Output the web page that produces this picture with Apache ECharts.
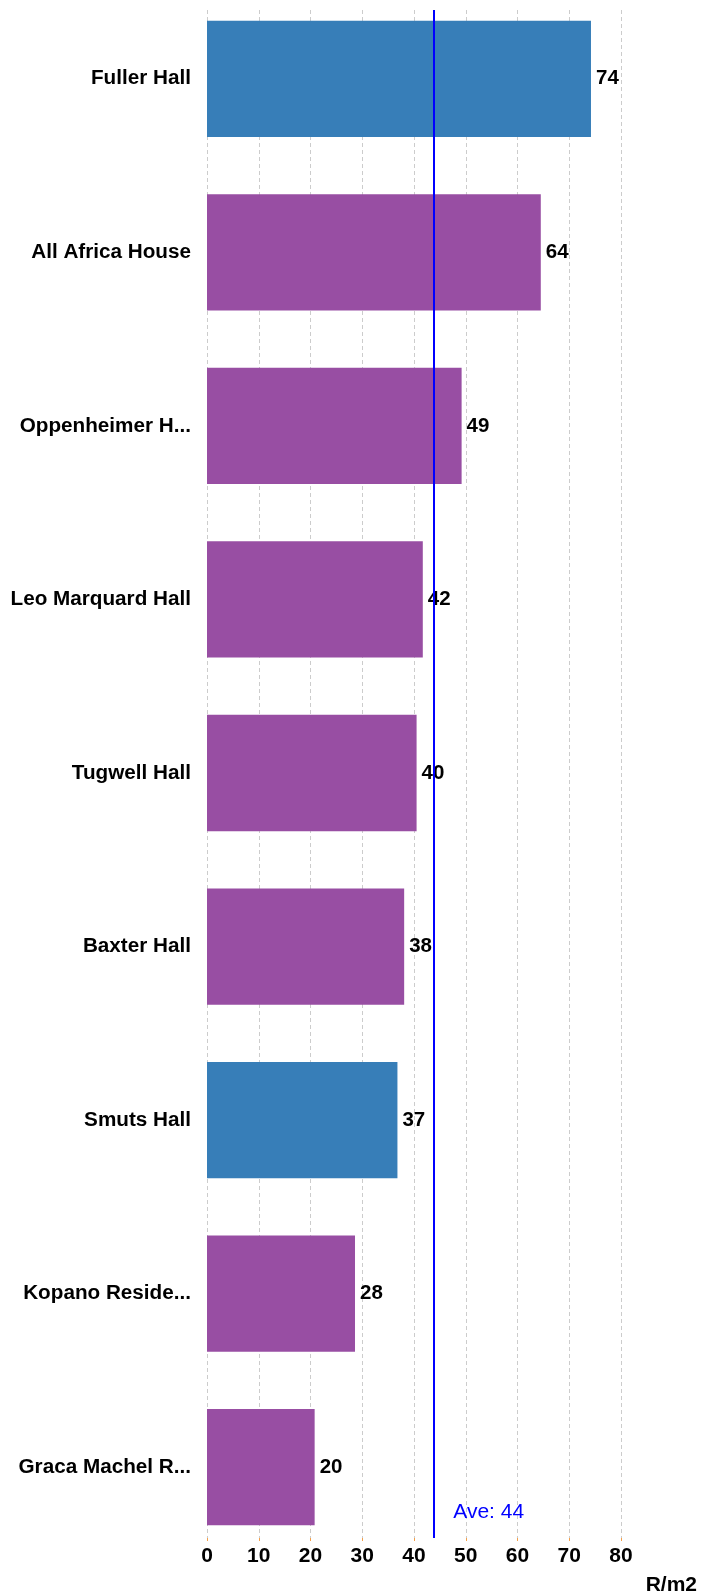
<!DOCTYPE html>
<html>
<head>
<meta charset="utf-8">
<title>R/m2 by residence</title>
<script src="https://cdn.jsdelivr.net/npm/echarts@6/dist/echarts.min.js"></script>
<style>
  html, body { margin: 0; padding: 0; background: #fff; }
  #chart { width: 701px; height: 1595px; }
</style>
</head>
<body>
<div id="chart"></div>
<script>
// data
const halls = ['Fuller Hall', 'All Africa House', 'Oppenheimer H...', 'Leo Marquard Hall',
  'Tugwell Hall', 'Baxter Hall', 'Smuts Hall', 'Kopano Reside...', 'Graca Machel R...']
const values = [74.2, 64.5, 49.2, 41.7, 40.5, 38.1, 36.8, 28.6, 20.8]
const valueLabels = ['74', '64', '49', '42', '40', '38', '37', '28', '20']
const highlighted = [true, false, false, false, false, false, true, false, false]
const average = 43.8
const averageLabel = 'Ave: 44'
const xTicks = { min: 0, max: 80, interval: 10 }

const BLUE = '#377eb8'
const PURPLE = '#984ea3'
const FONT = "'Liberation Sans', Arial, sans-serif"

const chart = echarts.init(document.getElementById('chart'))

chart.setOption({
  animation: false,
  grid: [
    // bars (band a little taller than the axis area, as in the original)
    { left: 207, right: 80, top: -8, bottom: 41, outerBoundsMode: 'none' },
    // axis, grid lines and average line
    { left: 207, right: 80, top: 10, bottom: 57, outerBoundsMode: 'none' }
  ],
  xAxis: [
    {
      gridIndex: 0, type: 'value', min: xTicks.min, max: xTicks.max, interval: xTicks.interval,
      show: false
    },
    {
      gridIndex: 1, type: 'value', min: xTicks.min, max: xTicks.max, interval: xTicks.interval,
      name: 'R/m2',
      nameLocation: 'end',
      nameGap: 76,
      nameTextStyle: {
        fontFamily: FONT, fontSize: 21, fontWeight: 'bold', color: '#000',
        align: 'right', verticalAlign: 'top', padding: [37, 0, 0, 0]
      },
      axisLine: { show: false },
      axisTick: { show: true, length: 3, lineStyle: { color: '#f5a04a' } },
      axisLabel: { fontFamily: FONT, fontSize: 21, fontWeight: 'bold', color: '#000', margin: 8 },
      splitLine: { show: true, lineStyle: { color: '#cccccc', type: [4, 3], width: 1 } }
    }
  ],
  yAxis: [
    {
      gridIndex: 0, type: 'category', data: halls, inverse: true,
      axisLine: { show: false },
      axisTick: { show: false },
      axisLabel: { fontFamily: FONT, fontSize: 20.7, fontWeight: 'bold', color: '#000', margin: 16 }
    },
    { gridIndex: 1, type: 'value', min: 0, max: 1, show: false }
  ],
  series: [
    {
      type: 'bar',
      xAxisIndex: 0,
      yAxisIndex: 0,
      barCategoryGap: '33%',
      data: values.map((v, i) => ({
        value: v,
        itemStyle: { color: highlighted[i] ? BLUE : PURPLE }
      })),
      label: {
        show: true,
        position: 'right',
        distance: 5,
        fontFamily: FONT, fontSize: 20.5, fontWeight: 'bold', color: '#000',
        formatter: p => valueLabels[p.dataIndex]
      }
    },
    {
      type: 'line',
      xAxisIndex: 1,
      yAxisIndex: 1,
      data: [],
      markLine: {
        silent: true,
        symbol: 'none',
        lineStyle: { color: '#0000ff', width: 2, type: 'solid' },
        label: {
          show: true,
          position: 'start',
          formatter: averageLabel,
          fontFamily: FONT, fontSize: 21, color: '#0000ff',
          offset: [55, -41]
        },
        data: [{ xAxis: average }]
      }
    }
  ]
})

window.addEventListener('resize', () => chart.resize())
</script>
</body>
</html>
